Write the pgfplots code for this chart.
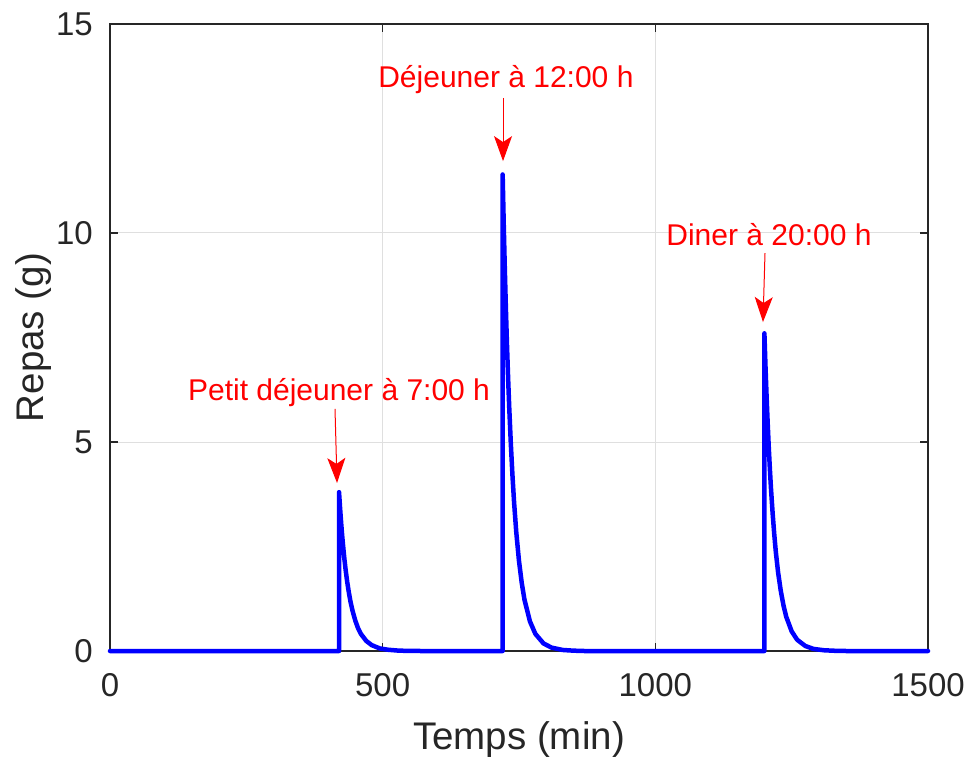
\documentclass[border=0pt]{standalone}
\usepackage{pgfplots}
\pgfplotsset{compat=1.18}
\usepackage{pgfplotstable}
\usepackage{fontspec}
\setmainfont{Liberation Sans}
\usetikzlibrary{calc,arrows.meta}

\definecolor{axcol}{RGB}{38,38,38}
\definecolor{gridcol}{RGB}{223,223,223}
\definecolor{mealblue}{RGB}{0,0,255}
\definecolor{annred}{RGB}{255,0,0}

% Meal input (g) over the day, time in minutes
\pgfplotstableread{
t y
0 0
420 0
420 3.80
422 3.40
424 3.04
426 2.72
428 2.44
430 2.18
432 1.95
435 1.65
438 1.40
441 1.18
445 0.95
450 0.72
455 0.54
460 0.41
470 0.24
480 0.14
495 0.06
510 0.03
530 0.008
550 0.003
570 0
720 0
720 11.40
722 10.20
724 9.13
726 8.17
728 7.31
730 6.54
732 5.85
735 4.96
738 4.20
741 3.55
745 2.84
750 2.15
755 1.63
760 1.23
770 0.71
780 0.41
795 0.18
810 0.08
830 0.025
850 0.008
870 0
1200 0
1200 7.60
1202 6.80
1204 6.09
1206 5.45
1208 4.87
1210 4.36
1212 3.90
1215 3.31
1218 2.80
1221 2.36
1225 1.89
1230 1.44
1235 1.09
1240 0.82
1250 0.47
1260 0.27
1275 0.12
1290 0.05
1310 0.017
1330 0.005
1350 0
1500 0
}\meals

\begin{document}
\begin{tikzpicture}
\begin{axis}[
  name=ax,
  scale only axis,
  width=818pt, height=627pt,
  xmin=0, xmax=1500, ymin=0, ymax=15,
  xtick={0,500,1000,1500},
  ytick={0,5,10,15},
  axis line style={axcol, line width=1.2pt},
  tick style={axcol, line width=1.2pt},
  major tick length=8pt,
  tick align=inside,
  xtick pos=both, ytick pos=both,
  grid=major,
  major grid style={gridcol, line width=1pt},
  /pgf/number format/assume math mode=true,
  /pgf/number format/1000 sep={},
  scaled ticks=false,
  ticklabel style={font=\fontsize{33}{38}\selectfont, text=axcol},
  xticklabel style={inner sep=0pt, anchor=north, yshift=-22pt},
  yticklabel style={inner sep=0pt, anchor=east, xshift=-17pt},
  xlabel={Temps (min)},
  ylabel={Repas (g)},
  label style={font=\fontsize{38.5}{44}\selectfont, text=axcol},
  xlabel style={at={(axis description cs:0.5,-0.1563)}, anchor=base, inner sep=0pt},
  ylabel style={at={(axis description cs:-0.0807,0.5)}, anchor=base, rotate=0, inner sep=0pt},
  clip=false,
]
\addplot[mealblue, line width=4.5pt, line join=round, line cap=round] table[x=t, y=y] {\meals};

\begin{scope}[annred]
\node[anchor=base, inner sep=0pt, font=\fontsize{30}{35}\selectfont] at (axis cs:420,6.0) {Petit déjeuner à 7:00 h};
\draw[line width=1pt, -{Stealth[length=25pt, width=18pt, inset=6pt]}] (axis cs:412.6,5.79) -- (axis cs:416.3,4.02);

\node[anchor=base, inner sep=0pt, font=\fontsize{30}{35}\selectfont] at (axis cs:726,13.47) {Déjeuner à 12:00 h};
\draw[line width=1pt, -{Stealth[length=25pt, width=18pt, inset=6pt]}] (axis cs:720.7,13.23) -- (axis cs:720.7,11.72);

\node[anchor=base, inner sep=0pt, font=\fontsize{30}{35}\selectfont] at (axis cs:1208.4,9.71) {Diner à 20:00 h};
\draw[line width=1pt, -{Stealth[length=25pt, width=18pt, inset=6pt]}] (axis cs:1201.1,9.52) -- (axis cs:1197.4,7.87);
\end{scope}
\end{axis}
\pgfresetboundingbox
\path ($(ax.south west)+(-110pt,-107pt)$) rectangle ($(ax.north east)+(42pt,24pt)$);
\end{tikzpicture}
\end{document}
